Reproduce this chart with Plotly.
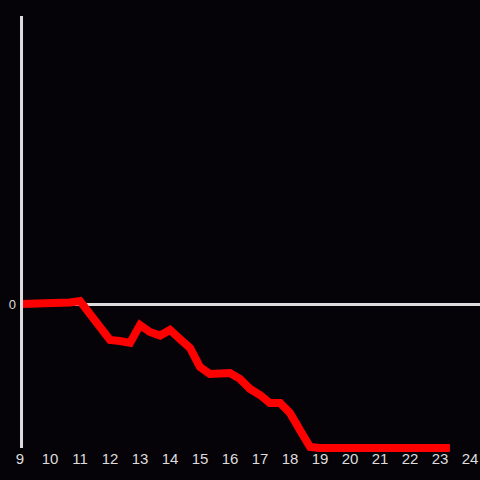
import plotly.graph_objects as go

hours = [9, 10, 10.67, 11, 12, 12.33, 12.67, 13, 13.33, 13.67, 14, 14.33, 14.67,
         15, 15.33, 15.67, 16, 16.33, 16.67, 17, 17.33, 17.67, 18, 18.33, 18.67,
         19, 20, 21, 22, 23, 23.33]
values = [0, 0.003, 0.01, 0.02, -0.25, -0.257, -0.27, -0.146, -0.194, -0.219, -0.18,
          -0.243, -0.306, -0.4375, -0.486, -0.483, -0.479, -0.52, -0.59, -0.632,
          -0.6875, -0.6875, -0.757, -0.875, -0.993, -1, -1, -1, -1, -1, -1]
x_ticks = list(range(9, 25))
y_ticks = [0]

bg = "#050307"
axis_col = "#dddddd"
pad = 5  # px of room below the lowest value so the thick line is not clipped
fig = go.Figure()
fig.add_trace(go.Scatter(x=hours, y=values, mode="lines",
                         line=dict(color="#ff0000", width=8),
                         hoverinfo="skip", showlegend=False))
fig.update_layout(
    width=480, height=480,
    margin=dict(l=20, r=0, t=16, b=32 - pad),
    paper_bgcolor=bg, plot_bgcolor=bg,
    font=dict(family="Liberation Sans, Arial, sans-serif", size=15, color=axis_col),
    showlegend=False,
)
fig.update_xaxes(range=[9, 9 + 460 / 30], tickvals=x_ticks, ticktext=[str(t) for t in x_ticks],
                 showgrid=False, zeroline=False, showline=False, ticks="", ticklen=0,
                 ticklabelstandoff=-pad)
fig.update_yaxes(range=[-1 - pad / 144, 2], tickvals=y_ticks, ticktext=["0"], showgrid=False,
                 tickfont=dict(size=13), ticklabelstandoff=3,
                 zeroline=True, zerolinecolor=axis_col, zerolinewidth=3,
                 showline=False, ticks="", ticklen=0)
# y axis line, drawn just right of the plot edge as in the reference
fig.add_shape(type="line", xref="paper", yref="paper", x0=0.0033, x1=0.0033,
              y0=pad / (432 + pad), y1=1,
              line=dict(color=axis_col, width=3), layer="above")
fig.write_html("out.html", config={"displayModeBar": False},
               post_script="document.body.style.margin='0';document.body.style.background='%s';" % bg)
